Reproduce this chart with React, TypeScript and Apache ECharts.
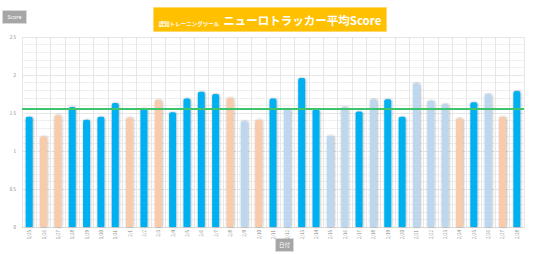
import React, { useEffect, useRef } from "react";
import * as echarts from "echarts";

const dates = [
  "1/25", "1/26", "1/27", "1/28", "1/29", "1/30", "1/31",
  "2/1", "2/2", "2/3", "2/4", "2/5", "2/6", "2/7", "2/8", "2/9", "2/10",
  "2/11", "2/12", "2/13", "2/14", "2/15", "2/16", "2/17", "2/18", "2/19",
  "2/20", "2/21", "2/22", "2/23", "2/24", "2/25", "2/26", "2/27", "2/28",
];

const scores = [
  1.45, 1.19, 1.47, 1.58, 1.41, 1.45, 1.63,
  1.44, 1.56, 1.67, 1.51, 1.69, 1.78, 1.75, 1.70, 1.39, 1.41,
  1.69, 1.55, 1.96, 1.55, 1.20, 1.58, 1.52, 1.68, 1.68,
  1.45, 1.89, 1.66, 1.62, 1.43, 1.64, 1.75, 1.45, 1.79,
];

// group of each day: 0 = main, 1 = peach group, 2 = light group
const groups = [
  0, 1, 1, 0, 0, 0, 0,
  1, 0, 1, 0, 0, 0, 0, 1, 2, 1,
  0, 2, 0, 0, 2, 2, 0, 2, 0,
  0, 2, 2, 2, 1, 0, 2, 1, 0,
];

const averageScore = 1.55;

const yTicks = ["0", "0.5", "1", "1.5", "2", "2.5"];

const groupColors = ["#00b0f0", "#f8cbad", "#bdd7ee"];

export default function App() {
  const ref = useRef<HTMLDivElement>(null);

  useEffect(() => {
    if (!ref.current) return;
    const chart = echarts.init(ref.current, null, { renderer: "svg" });
    chart.setOption({
      animation: false,
      textStyle: { fontFamily: "Noto Sans CJK JP, Noto Sans, sans-serif" },
      title: {
        text: "{s|認知トレーニングツール} {m|ニューロトラッカー平均Score}",
        left: "center",
        top: 7,
        backgroundColor: "#ffc000",
        borderColor: "#ffd966",
        borderWidth: 1,
        padding: [4, 5, 3, 5],
        textStyle: {
          rich: {
            s: { fontSize: 5.5, color: "#ffffff", fontWeight: "bold", verticalAlign: "bottom", padding: [0, 0, 2, 0] },
            m: { fontSize: 11.5, color: "#ffffff", fontWeight: "bold", lineHeight: 15 },
          },
        },
      },
      graphic: [
        {
          type: "group",
          left: 2,
          top: 10,
          children: [
            { type: "rect", shape: { x: 0, y: 0, width: 24, height: 13 }, style: { fill: "#a6a6a6", stroke: "#d9d9d9", lineWidth: 1 } },
            { type: "text", x: 12, y: 6.5, style: { text: "Score", fill: "#ffffff", fontSize: 5.5, align: "center", verticalAlign: "middle", fontFamily: "Noto Sans" } },
          ],
        },
        {
          type: "group",
          left: 275,
          top: 238,
          children: [
            { type: "rect", shape: { x: 0, y: 0, width: 18, height: 13 }, style: { fill: "#a6a6a6", stroke: "#d9d9d9", lineWidth: 1 } },
            { type: "text", x: 9, y: 6.5, style: { text: "日付", fill: "#ffffff", fontSize: 5.5, align: "center", verticalAlign: "middle", fontFamily: "Noto Sans CJK JP" } },
          ],
        },
      ],
      grid: { left: 22, right: 16, top: 37, bottom: 27, containLabel: false },
      xAxis: {
        type: "category",
        data: dates,
        axisLine: { show: true, lineStyle: { color: "#d9d9d9" } },
        axisTick: { show: false },
        splitLine: { show: true, interval: 0, lineStyle: { color: "#e6e6e6", width: 1 } },
        axisLabel: { interval: 0, rotate: 90, fontSize: 4.5, color: "#7f7f7f", margin: 3 },
      },
      yAxis: {
        type: "value",
        min: 0,
        max: 2.5,
        interval: 0.5,
        axisLine: { show: false },
        axisTick: { show: false },
        axisLabel: {
          fontSize: 4.5,
          color: "#7f7f7f",
          margin: 6,
          formatter: (v: number) => yTicks[Math.round(v / 0.5)] ?? String(v),
        },
        splitLine: { show: true, lineStyle: { color: "#e6e6e6", width: 1 } },
        minorTick: { show: false, splitNumber: 5 },
        minorSplitLine: { show: true, lineStyle: { color: "#f0f0f0", width: 1 } },
      },
      series: [
        {
          type: "bar",
          barWidth: 7,
          data: scores.map((v, i) => ({
            value: v,
            itemStyle: { color: groupColors[groups[i]] },
          })),
          itemStyle: {
            borderRadius: [2, 2, 0, 0],
            shadowBlur: 2,
            shadowColor: "rgba(0,0,0,0.35)",
            shadowOffsetX: 0.5,
            shadowOffsetY: 0,
          },
          markLine: {
            silent: true,
            symbol: ["none", "none"],
            label: { show: false },
            lineStyle: { color: "#3ec46d", width: 2, type: "solid" },
            data: [{ yAxis: averageScore }],
          },
        },
      ],
    });
    return () => chart.dispose();
  }, []);

  return <div ref={ref} style={{ width: 540, height: 254, position: "absolute", left: 0, top: 0 }} />;
}
